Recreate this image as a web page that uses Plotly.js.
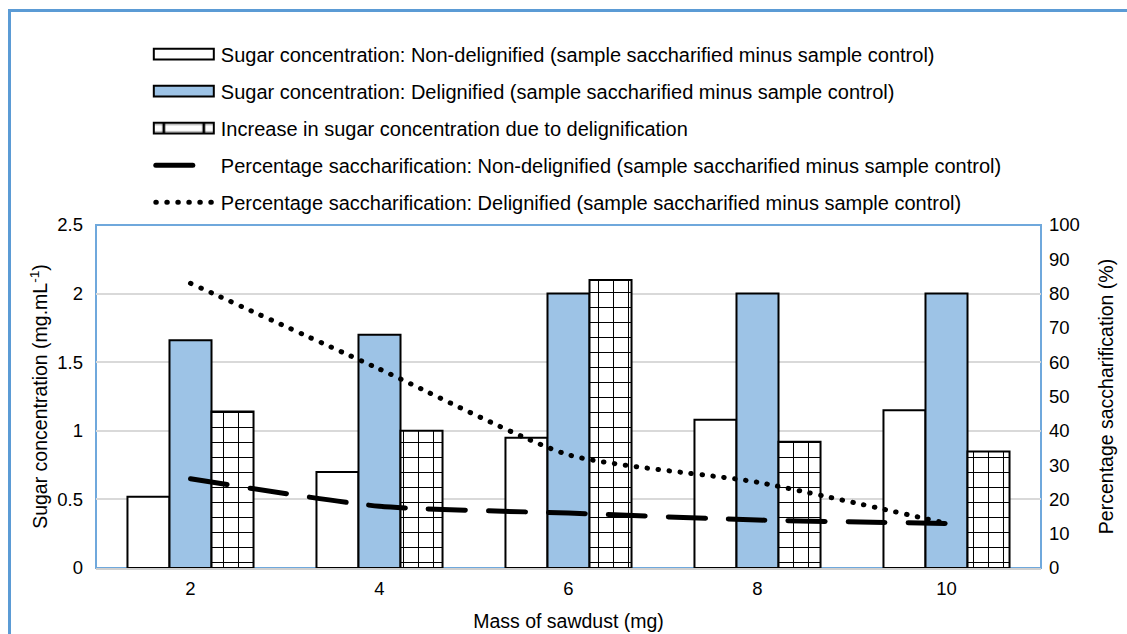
<!DOCTYPE html>
<html>
<head>
<meta charset="utf-8">
<script src="https://cdn.plot.ly/plotly-3.0.1.min.js"></script>
<style>
  html, body { margin: 0; padding: 0; background: #fff; }
  #wrap { position: relative; width: 1127px; height: 634px; overflow: hidden; }
  #chart { position: absolute; left: 0; top: 0; width: 1127px; height: 634px; }
  #frame { position: absolute; left: 8px; top: 9px; width: 1200px; height: 700px;
           border-left: 3px solid #5B9BD5; border-top: 3px solid #5B9BD5; pointer-events: none; }
  .scatterlayer .js-line, .legendlines path { stroke-linecap: round; }
  .legend .legendpoints path { vector-effect: non-scaling-stroke; }
</style>
</head>
<body>
<div id="wrap">
  <div id="chart"></div>
  <div id="frame"></div>
</div>
<script>
const mass = ['2', '4', '6', '8', '10'];
const sugarNonDelig = [0.52, 0.70, 0.95, 1.08, 1.15];
const sugarDelig = [1.66, 1.70, 2.00, 2.00, 2.00];
const sugarIncrease = [1.14, 1.00, 2.10, 0.92, 0.85];
const pctNonDelig = [26, 18, 16, 14, 13];
const pctDelig = [83, 58, 33, 25, 13];

const names = [
  'Sugar concentration: Non-delignified (sample saccharified minus sample control)',
  'Sugar concentration: Delignified (sample saccharified minus sample control)',
  'Increase in sugar concentration due to delignification',
  'Percentage saccharification: Non-delignified (sample saccharified minus sample control)',
  'Percentage saccharification: Delignified (sample saccharified minus sample control)'
];

const traces = [
  { type: 'bar', x: mass, y: sugarNonDelig, name: names[0], legendgroup: 'a',
    marker: { color: '#ffffff', line: { color: '#000', width: 2 } } },
  { type: 'bar', x: mass, y: sugarDelig, name: names[1], legendgroup: 'b',
    marker: { color: '#9DC3E6', line: { color: '#000', width: 2 } } },
  { type: 'bar', x: mass, y: sugarIncrease, name: names[2], legendgroup: 'c',
    marker: { color: '#ffffff', line: { color: '#000', width: 2 },
      pattern: { shape: '+', fgcolor: '#000', bgcolor: '#fff', size: 15, solidity: 0.13 } } },
  { type: 'scatter', mode: 'lines', x: mass, y: pctNonDelig, yaxis: 'y2', name: names[3], legendgroup: 'd',
    line: { color: '#000', width: 5, dash: '37px,23px', shape: 'spline', smoothing: 0.6 } },
  { type: 'scatter', mode: 'lines', x: mass, y: pctDelig, yaxis: 'y2', name: names[4], legendgroup: 'e',
    line: { color: '#000', width: 5, dash: '0.5px,10.5px', shape: 'spline', smoothing: 0.6 } }
];

const fam = 'Liberation Sans, Arial, sans-serif';
const tickFont = { family: fam, size: 18.5, color: '#000' };
const titleFont = { family: fam, size: 19.5, color: '#000' };

const layout = {
  width: 1127, height: 634,
  margin: { l: 96, r: 86, t: 225, b: 66 },
  paper_bgcolor: '#fff', plot_bgcolor: '#fff',
  font: { family: fam, size: 18, color: '#000' },
  showlegend: true,
  barmode: 'group', bargap: 0.333, bargroupgap: 0,
  legend: { x: 0.058, y: 1.555, xanchor: 'left', yanchor: 'top', traceorder: 'grouped',
            tracegroupgap: 8, itemwidth: 60, font: { family: fam, size: 20, color: '#000' },
            bgcolor: 'rgba(0,0,0,0)' },
  xaxis: { type: 'category', showgrid: false, showline: true, linecolor: '#d0d0d0', linewidth: 2,
           ticks: '', tickfont: tickFont, zeroline: false, ticklabelstandoff: 3,
           title: { text: 'Mass of sawdust (mg)', font: titleFont, standoff: 16 } },
  yaxis: { range: [0, 2.5], dtick: 0.5, showgrid: true, gridcolor: '#d9d9d9', gridwidth: 2,
           showline: false, zeroline: false, ticks: '', tickfont: tickFont, ticklabelstandoff: 12,
           title: { text: 'Sugar concentration (mg.mL<sup>-1</sup>)', font: titleFont, standoff: 4 } },
  yaxis2: { range: [0, 100], dtick: 10, overlaying: 'y', side: 'right', showgrid: false,
            showline: false, zeroline: false, ticks: '', tickfont: tickFont, ticklabelstandoff: 7,
            title: { text: 'Percentage saccharification (%)', font: titleFont, standoff: 20 } },
  shapes: [
    { type: 'rect', xref: 'paper', yref: 'paper', x0: 0, x1: 1, y0: 0, y1: 1,
      line: { color: '#6FA8DC', width: 2 }, layer: 'below' }
  ]
};

function widenLegendBars(gd) {
  // Stretch the square legend swatches of the bar traces into wide flat rectangles.
  gd.querySelectorAll('.legend .legendpoints path').forEach(function (p) {
    const d = (p.getAttribute('d') || '').replace(/\s/g, '');
    if (!/^M6,6H-6V-6H6Z$/.test(d)) return;
    if (p.dataset.widened) return;
    const t = p.getAttribute('transform') || '';
    p.setAttribute('transform', t + ' translate(-2,0) scale(5.0,0.9)');
    p.dataset.widened = '1';
  });
}

Plotly.newPlot('chart', traces, layout, { displayModeBar: false, staticPlot: true }).then(function (gd) {
  widenLegendBars(gd);
  gd.on('plotly_afterplot', function () { widenLegendBars(gd); });
});
</script>
</body>
</html>
